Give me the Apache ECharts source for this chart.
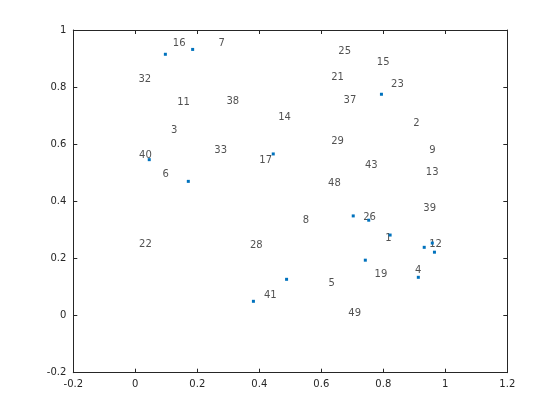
<!DOCTYPE html>
<html>
<head>
<meta charset="utf-8">
<script src="https://cdn.jsdelivr.net/npm/echarts@6/dist/echarts.min.js"></script>
<style>html,body{margin:0;padding:0;background:#fff;}#c{width:560px;height:420px;}</style>
</head>
<body>
<div id="c"></div>
<script>
// Marker points
const pointX = [0.097, 0.185, 0.045, 0.171, 0.445, 0.794, 0.381, 0.488, 0.703, 0.753, 0.822, 0.932, 0.958, 0.965, 0.742, 0.913];
const pointY = [0.915, 0.932, 0.546, 0.470, 0.566, 0.775, 0.050, 0.127, 0.349, 0.334, 0.282, 0.239, 0.254, 0.222, 0.194, 0.134];

// Text labels (left edge, vertical middle)
const labelText = ['16','7','32','11','38','14','3','33','40','17','6','25','15','21','23','37','2','29','9','43','13','48','22','28','41','39','8','26','1','12','4','19','5','49'];
const labelX = [0.121,0.268,0.010,0.135,0.294,0.461,0.115,0.255,0.012,0.400,0.088,0.655,0.779,0.632,0.825,0.672,0.897,0.632,0.948,0.741,0.937,0.622,0.012,0.370,0.415,0.929,0.540,0.735,0.806,0.948,0.902,0.772,0.623,0.687];
const labelY = [0.953,0.953,0.827,0.747,0.751,0.694,0.649,0.579,0.561,0.544,0.495,0.926,0.886,0.834,0.810,0.754,0.673,0.611,0.580,0.526,0.503,0.463,0.250,0.246,0.071,0.376,0.335,0.344,0.271,0.250,0.159,0.145,0.113,0.008];

const xTicks = {min: -0.2, max: 1.2, interval: 0.2};
const yTicks = {min: -0.2, max: 1, interval: 0.2};

const FONT = 'DejaVu Sans';
const AX = '#262626';

function axis(base, pos, showLabels) {
  return {
    type: 'value', position: pos,
    min: base.min, max: base.max, interval: base.interval,
    axisLine: {show: true, onZero: false, lineStyle: {color: AX, width: 1}},
    axisTick: {show: true, inside: true, length: 4, lineStyle: {color: AX}},
    axisLabel: {show: showLabels, color: AX, fontFamily: FONT, fontSize: 10, margin: 7},
    splitLine: {show: false}
  };
}

const chart = echarts.init(document.getElementById('c'), null, {renderer: 'canvas'});
chart.setOption({
  animation: false,
  backgroundColor: '#fff',
  grid: {left: 73.3, right: 52.7, top: 30, bottom: 47.3, containLabel: false},
  xAxis: [axis(xTicks, 'bottom', true), axis(xTicks, 'top', false)],
  yAxis: [axis(yTicks, 'left', true), axis(yTicks, 'right', false)],
  series: [
    {
      type: 'scatter', xAxisIndex: 0, yAxisIndex: 0,
      symbol: 'rect', symbolSize: 3,
      itemStyle: {color: '#0072BD', opacity: 1},
      data: pointX.map((x, i) => [x, pointY[i]]),
      z: 3
    },
    {
      type: 'scatter', xAxisIndex: 0, yAxisIndex: 0,
      symbolSize: 0,
      itemStyle: {color: 'rgba(0,0,0,0)'},
      label: {
        show: true, position: 'right', distance: 0,
        align: 'left', verticalAlign: 'middle',
        color: AX, fontFamily: FONT, fontSize: 10,
        formatter: p => p.value[2]
      },
      data: labelX.map((x, i) => [x, labelY[i], labelText[i]]),
      z: 2
    }
  ]
});
</script>
</body>
</html>
